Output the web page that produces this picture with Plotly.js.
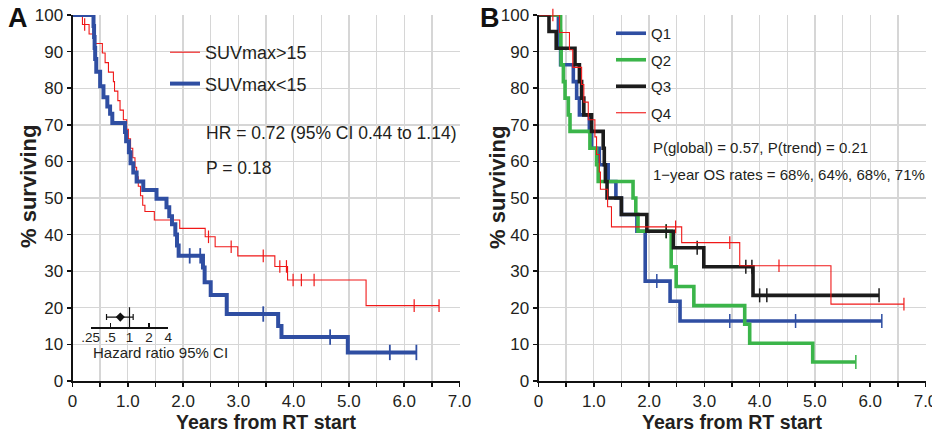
<!DOCTYPE html>
<html><head><meta charset="utf-8">
<script src="https://cdn.plot.ly/plotly-3.0.1.min.js"></script>
<style>html,body{margin:0;padding:0;background:#fff}#chart{width:932px;height:433px}</style>
</head><body><div id="chart"></div>
<script>
// ---------- Panel A data (Kaplan-Meier, % surviving vs years) ----------
const suvHighTimes = [0, 0.18, 0.30, 0.41, 0.54, 0.59, 0.65, 0.74, 0.76, 0.82, 0.86, 0.92, 0.98, 1.01, 1.05, 1.09, 1.13, 1.16, 1.19, 1.23, 1.27, 1.31, 1.48, 1.94, 2.40, 2.58, 2.99, 3.66, 3.89, 5.31];
const suvHighSurv  = [100, 97.4, 94.8, 92.2, 89.6, 87.0, 84.4, 81.8, 79.2, 76.6, 74.0, 71.4, 68.8, 66.2, 63.6, 61.0, 58.4, 55.8, 53.2, 50.6, 48.0, 46.3, 44.0, 41.7, 39.4, 36.7, 34.2, 31.3, 27.6, 20.6];
const suvHighCensor = [0.22, 2.46, 2.87, 3.45, 3.75, 3.87, 3.99, 4.14, 4.37, 6.18, 6.63];

const suvLowTimes = [0, 0.38, 0.39, 0.40, 0.41, 0.43, 0.50, 0.56, 0.63, 0.68, 0.72, 0.95, 0.97, 1.02, 1.05, 1.10, 1.16, 1.28, 1.52, 1.70, 1.75, 1.80, 1.86, 1.89, 1.92, 2.36, 2.39, 2.50, 2.79, 3.72, 3.78, 4.98];
const suvLowSurv  = [100, 97, 94, 91, 88, 84.5, 80.5, 77.5, 75, 73, 70.5, 68, 65.5, 62.5, 59.5, 57, 54.5, 52.2, 49.8, 47.5, 45, 42.8, 40, 37, 34.2, 31, 27, 23.5, 18.3, 15, 12, 7.8];
const suvLowCensor = [2.12, 2.31, 3.45, 4.66, 5.74, 6.22];

// Hazard ratio inset
const hrValue = 0.72, hrLow = 0.44, hrHigh = 1.14;
const hrTicks = [0.25, 0.5, 1, 2, 4];
const hrTickText = ['.25', '.5', '1', '2', '4'];

// ---------- Panel B data (quartiles) ----------
const q1Times = [0, 0.36, 0.38, 0.40, 0.63, 0.69, 0.74, 0.92, 0.96, 1.10, 1.26, 1.40, 1.50, 1.78, 1.93, 2.38, 2.56];
const q1Surv  = [100, 95.5, 90.9, 86.4, 81.8, 77.3, 72.7, 68.2, 63.6, 59.1, 54.5, 50.0, 45.5, 40.9, 27.3, 21.8, 16.4];
const q1Censor = [2.14, 3.46, 4.65, 6.21];

const q2Times = [0, 0.40, 0.405, 0.41, 0.45, 0.48, 0.54, 0.57, 0.93, 1.05, 1.08, 1.71, 1.76, 1.80, 2.40, 2.49, 2.81, 3.73, 3.82, 4.96];
const q2Surv  = [100, 95.5, 90.9, 86.4, 81.8, 77.3, 72.7, 68.2, 63.6, 59.1, 54.5, 50.0, 45.5, 40.9, 31.2, 25.8, 20.6, 15.5, 10.3, 5.2];
const q2Censor = [2.31, 5.74];

const q3Times = [0, 0.19, 0.32, 0.66, 0.74, 0.78, 0.82, 0.96, 1.17, 1.19, 1.21, 1.24, 1.50, 1.96, 2.44, 2.99, 3.88];
const q3Surv  = [100, 95.5, 90.9, 86.4, 81.8, 77.3, 72.7, 68.2, 63.6, 59.1, 54.5, 50.0, 45.5, 40.9, 36.4, 31.2, 23.4];
const q3Censor = [2.31, 2.87, 3.75, 3.86, 4.0, 4.13, 6.16];

const q4Times = [0, 0.38, 0.56, 0.62, 0.78, 0.82, 0.90, 1.02, 1.05, 1.10, 1.12, 1.25, 1.32, 2.59, 3.64, 5.29];
const q4Surv  = [100, 95.2, 90.5, 85.7, 81.0, 76.2, 71.4, 66.7, 61.9, 57.1, 52.4, 47.6, 42.1, 37.8, 31.5, 21.0];
const q4Censor = [0.26, 2.48, 3.46, 4.35, 6.61];

// Tick labels
const xTickVals = [0, 0.5, 1, 1.5, 2, 2.5, 3, 3.5, 4, 4.5, 5, 5.5, 6, 6.5, 7];
const xTickText = ['0', '', '1.0', '', '2.0', '', '3.0', '', '4.0', '', '5.0', '', '6.0', '', '7.0'];
const yTickVals = [0, 10, 20, 30, 40, 50, 60, 70, 80, 90, 100];
const yTickText = ['0', '10', '20', '30', '40', '50', '60', '70', '80', '90', '100'];

// ---------- helpers ----------
const FONT = 'Liberation Sans, Arial, Helvetica, sans-serif';
const TXT = '#231f20';
function survAt(times, surv, t) {
  let s = surv[0];
  for (let i = 0; i < times.length; i++) { if (times[i] <= t) s = surv[i]; }
  return s;
}
function curve(times, surv, censor, opts) {
  const end = Math.max(times[times.length - 1], ...censor);
  const x = times.slice(), y = surv.slice();
  if (end > x[x.length - 1]) { x.push(end); y.push(y[y.length - 1]); }
  const line = {
    type: 'scatter', mode: 'lines', x: x, y: y, xaxis: opts.xa, yaxis: opts.ya,
    name: opts.name, legend: opts.legend, legendgroup: opts.name, showlegend: true,
    line: { shape: 'hv', color: opts.color, width: opts.width }, cliponaxis: false, hoverinfo: 'skip'
  };
  const marks = {
    type: 'scatter', mode: 'markers', x: censor, y: censor.map(t => survAt(times, surv, t)),
    xaxis: opts.xa, yaxis: opts.ya, showlegend: false, legendgroup: opts.name, cliponaxis: false, hoverinfo: 'skip',
    marker: { symbol: 'line-ns', size: opts.msize, color: opts.color, line: { color: opts.color, width: opts.mwidth } }
  };
  return [line, marks];
}

const RED = '#f01818', BLUE = '#2f4ea2', GREEN = '#3bb54a', BLACK = '#1c1c1c';

const data = [
  ...curve(suvHighTimes, suvHighSurv, suvHighCensor, { xa: 'x', ya: 'y', name: 'SUVmax>15', legend: 'legend', color: RED, width: 1.1, msize: 9, mwidth: 1.2 }),
  ...curve(suvLowTimes, suvLowSurv, suvLowCensor, { xa: 'x', ya: 'y', name: 'SUVmax<15', legend: 'legend', color: BLUE, width: 4, msize: 11, mwidth: 1.8 }),
  ...curve(q1Times, q1Surv, q1Censor, { xa: 'x2', ya: 'y2', name: 'Q1', legend: 'legend2', color: BLUE, width: 3.6, msize: 10, mwidth: 1.5 }),
  ...curve(q2Times, q2Surv, q2Censor, { xa: 'x2', ya: 'y2', name: 'Q2', legend: 'legend2', color: GREEN, width: 3.6, msize: 10, mwidth: 1.5 }),
  ...curve(q3Times, q3Surv, q3Censor, { xa: 'x2', ya: 'y2', name: 'Q3', legend: 'legend2', color: BLACK, width: 3.6, msize: 10, mwidth: 1.5 }),
  ...curve(q4Times, q4Surv, q4Censor, { xa: 'x2', ya: 'y2', name: 'Q4', legend: 'legend2', color: RED, width: 1.1, msize: 9, mwidth: 1.2 }),
  // hazard ratio inset
  { type: 'scatter', mode: 'lines', x: [1, 1], y: [0, 0.82], xaxis: 'x3', yaxis: 'y3', showlegend: false, hoverinfo: 'skip',
    line: { color: '#111', width: 1.2 } },
  { type: 'scatter', mode: 'markers', x: [hrValue], y: [0.42], xaxis: 'x3', yaxis: 'y3', showlegend: false, hoverinfo: 'skip',
    marker: { symbol: 'diamond', size: 7, color: '#111' },
    error_x: { type: 'data', symmetric: false, array: [hrHigh - hrValue], arrayminus: [hrValue - hrLow], color: '#111', thickness: 1.2, width: 3 } }
];

const W = 932, H = 433;
const px = v => v / W, py = v => (H - v) / H;
const yTop = 15, yBot = 381;

function mainX(domain, anchor) {
  return {
    domain: domain, anchor: anchor, range: [0, 7], tickmode: 'array', tickvals: xTickVals, ticktext: xTickText,
    showgrid: true, gridcolor: '#d6d6d6', gridwidth: 1.4, zeroline: false, showline: true, linecolor: '#111', linewidth: 2,
    ticks: 'outside', ticklen: 4, tickwidth: 1.5, tickcolor: '#111', automargin: false, ticklabeloverflow: 'allow',
    tickfont: { family: FONT, size: 17, color: TXT },
    title: { text: 'Years from RT start', font: { family: FONT, size: 19.5, color: TXT, weight: 'bold' }, standoff: 0 }
  };
}
function mainY(anchor) {
  return {
    domain: [py(yBot), py(yTop)], anchor: anchor, range: [0, 100], tickmode: 'array', tickvals: yTickVals, ticktext: yTickText,
    showgrid: true, gridcolor: '#d6d6d6', gridwidth: 1.4, zeroline: false, showline: true, linecolor: '#111', linewidth: 2,
    ticks: 'outside', ticklen: 4, tickwidth: 1.5, tickcolor: '#111', automargin: false,
    tickfont: { family: FONT, size: 17, color: TXT }
  };
}
function yTitle(xPix) {
  return { text: '% surviving', x: px(xPix), y: py(187), xref: 'paper', yref: 'paper', showarrow: false,
    textangle: -90, xanchor: 'center', yanchor: 'middle', font: { family: FONT, size: 22, color: TXT, weight: 'bold' } };
}

const layout = {
  width: W, height: H, margin: { l: 0, r: 0, t: 0, b: 0 },
  paper_bgcolor: '#ffffff', plot_bgcolor: 'rgba(0,0,0,0)',
  font: { family: FONT, color: TXT },
  xaxis: mainX([px(72.5), px(459.5)], 'y'),
  yaxis: mainY('x'),
  xaxis2: mainX([px(538.5), px(925.5)], 'y2'),
  yaxis2: mainY('x2'),
  xaxis3: {
    domain: [px(90.7), px(168.3)], anchor: 'y3', type: 'log', range: [Math.log10(0.25), Math.log10(4)],
    tickmode: 'array', tickvals: hrTicks, ticktext: hrTickText, showgrid: false, zeroline: false,
    showline: true, linecolor: '#111', linewidth: 1.3, ticks: 'inside', ticklen: 4, tickwidth: 1.2, tickcolor: '#111',
    ticklabelstandoff: -3,
    tickfont: { family: FONT, size: 13.5, color: TXT }, automargin: false
  },
  yaxis3: { domain: [py(327.3), py(303)], anchor: 'x3', range: [0, 1], visible: false },
  legend: {
    x: px(165), y: py(34), xanchor: 'left', yanchor: 'top', bgcolor: 'rgba(0,0,0,0)', borderwidth: 0,
    font: { family: FONT, size: 18, color: TXT }, tracegroupgap: 5, itemwidth: 30
  },
  legend2: {
    x: px(611), y: py(17), xanchor: 'left', yanchor: 'top', bgcolor: 'rgba(0,0,0,0)', borderwidth: 0,
    font: { family: FONT, size: 15, color: TXT }, tracegroupgap: 4, itemwidth: 30
  },
  annotations: [
    yTitle(28),
    yTitle(497),
    { text: 'A', x: px(18), y: py(18), xref: 'paper', yref: 'paper', showarrow: false, xanchor: 'center', yanchor: 'middle',
      font: { family: FONT, size: 27, color: '#111', weight: 'bold' } },
    { text: 'B', x: px(490), y: py(18), xref: 'paper', yref: 'paper', showarrow: false, xanchor: 'center', yanchor: 'middle',
      font: { family: FONT, size: 27, color: '#111', weight: 'bold' } },
    { text: 'HR = 0.72 (95% CI 0.44 to 1.14)', x: px(204), y: py(133), xref: 'paper', yref: 'paper', showarrow: false,
      xanchor: 'left', yanchor: 'middle', font: { family: FONT, size: 17.5, color: TXT } },
    { text: 'P = 0.18', x: px(204), y: py(168), xref: 'paper', yref: 'paper', showarrow: false,
      xanchor: 'left', yanchor: 'middle', font: { family: FONT, size: 17.5, color: TXT } },
    { text: 'Hazard ratio 95% CI', x: px(91), y: py(352), xref: 'paper', yref: 'paper', showarrow: false,
      xanchor: 'left', yanchor: 'middle', font: { family: FONT, size: 15, color: TXT } },
    { text: 'P(global) = 0.57, P(trend) = 0.21', x: px(651), y: py(147), xref: 'paper', yref: 'paper', showarrow: false,
      xanchor: 'left', yanchor: 'middle', font: { family: FONT, size: 15, color: TXT } },
    { text: '1\u2212year OS rates = 68%, 64%, 68%, 71%', x: px(651), y: py(174), xref: 'paper', yref: 'paper', showarrow: false,
      xanchor: 'left', yanchor: 'middle', font: { family: FONT, size: 15, color: TXT } }
  ]
};

Plotly.newPlot('chart', data, layout, { staticPlot: true, displayModeBar: false });
</script></body></html>
